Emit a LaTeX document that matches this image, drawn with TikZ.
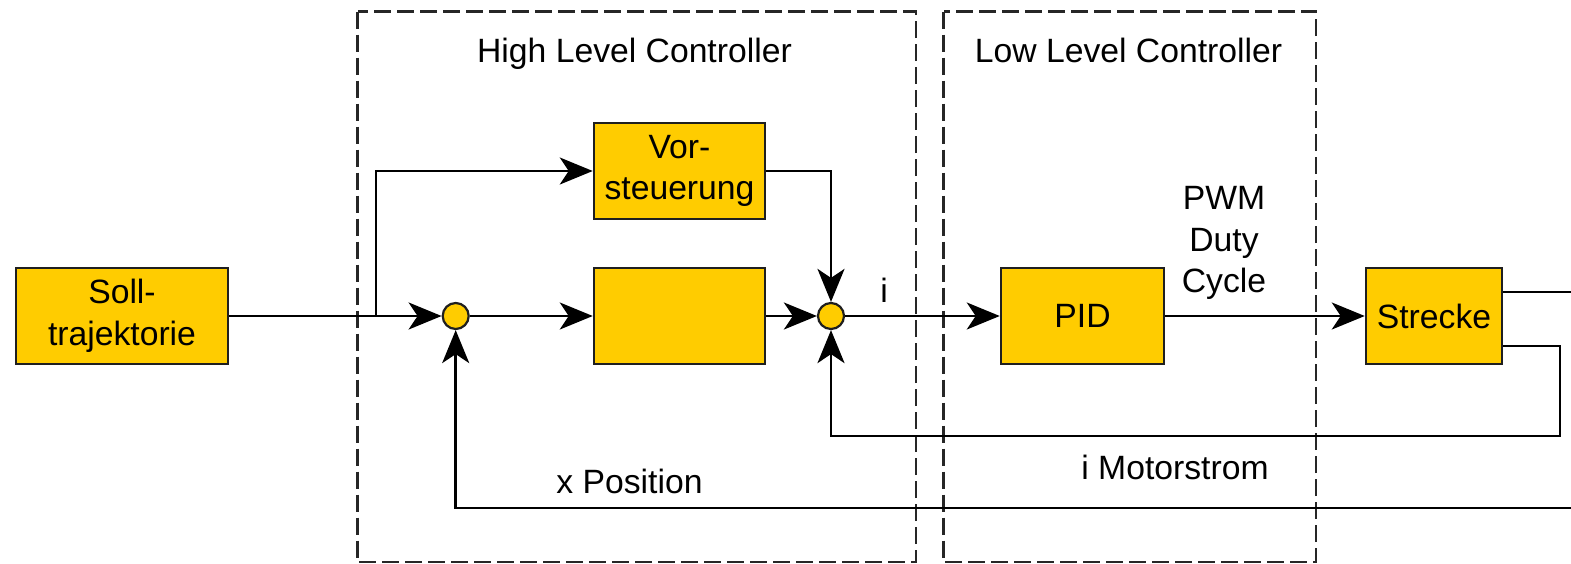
\documentclass[tikz,border=0pt]{standalone}
\usepackage{fontspec}
\setmainfont{Liberation Sans}
\usetikzlibrary{arrows.meta}
\definecolor{blockfill}{RGB}{255,204,0}
\begin{document}
\begin{tikzpicture}[x=0.5pt,y=-0.5pt,
  font=\fontsize{16.85}{20.75}\selectfont,
  block/.style={draw=black!88, line width=1.25pt, fill=blockfill, minimum height=48pt, inner sep=0pt, align=center},
  junction/.style={circle, draw=black!88, line width=1.1pt, fill=blockfill, minimum size=13pt, inner sep=0pt},
  wire/.style={line width=1.3pt},
  signal/.style={wire, -{Stealth[length=16.5pt,width=13.5pt,inset=4.5pt]}},
  group/.style={draw=black!85, line width=1.3pt, dash pattern=on 8.5pt off 3pt},
  txt/.style={inner sep=0pt, anchor=base, align=center}
]
\useasboundingbox (0,0) rectangle (1571,563);

% controller groups
\draw[group] (357.5,11.5) rectangle (916,562);
\draw[group] (943.5,11.5) rectangle (1316,562);
\node[txt] (hlc) at (634.5,62) {High Level Controller};
\node[txt] (llc) at (1128.5,62) {Low Level Controller};

% blocks
\node[block, minimum width=105.8pt] (soll) at (122,316) {Soll-\\trajektorie};
\node[block, minimum width=85.5pt] (vor) at (679.5,171) {Vor-\\steuerung};
\node[block, minimum width=85.5pt] (mid) at (679.5,316) {};
\node[block, minimum width=81.5pt] (pid) at (1082.5,316) {PID};
\node[block, minimum width=68pt] (str) at (1434,316) {Strecke};
\node[junction] (s1) at (455.7,316) {};
\node[junction] (s2) at (831,316) {};

% forward path
\coordinate (split) at (376,316);
\draw[wire] (soll.east) -- (split);
\draw[signal] (split) |- (vor.west);
\draw[signal] (soll.east) -- (s1);
\draw[signal] (s1) -- (mid);
\draw[signal] (mid) -- (s2);
\draw[signal] (vor.east) -| (s2);
\draw[signal] (s2) -- (pid);
\draw[signal] (pid) -- (str);

% plant outputs and feedback
\coordinate (yout) at (1571,292);
\draw[wire] (str.east |- yout) -- (yout);
\coordinate (iturn) at (1560,346);
\coordinate (ibot) at (1560,436);
\draw[signal] (str.east |- iturn) -- (iturn) -- (ibot) -| (s2);
\coordinate (xret) at (1571,508);
\draw[signal] (xret) -| (s1);

% signal labels
\node[txt] (ilab) at (884,302) {i};
\node[inner sep=0pt, align=center] (pwm) at (1224,243) {PWM\\Duty\\Cycle};
\node[txt] (imot) at (1175,479) {i Motorstrom};
\node[txt] (xpos) at (629.5,493) {x Position};
\end{tikzpicture}
\end{document}
